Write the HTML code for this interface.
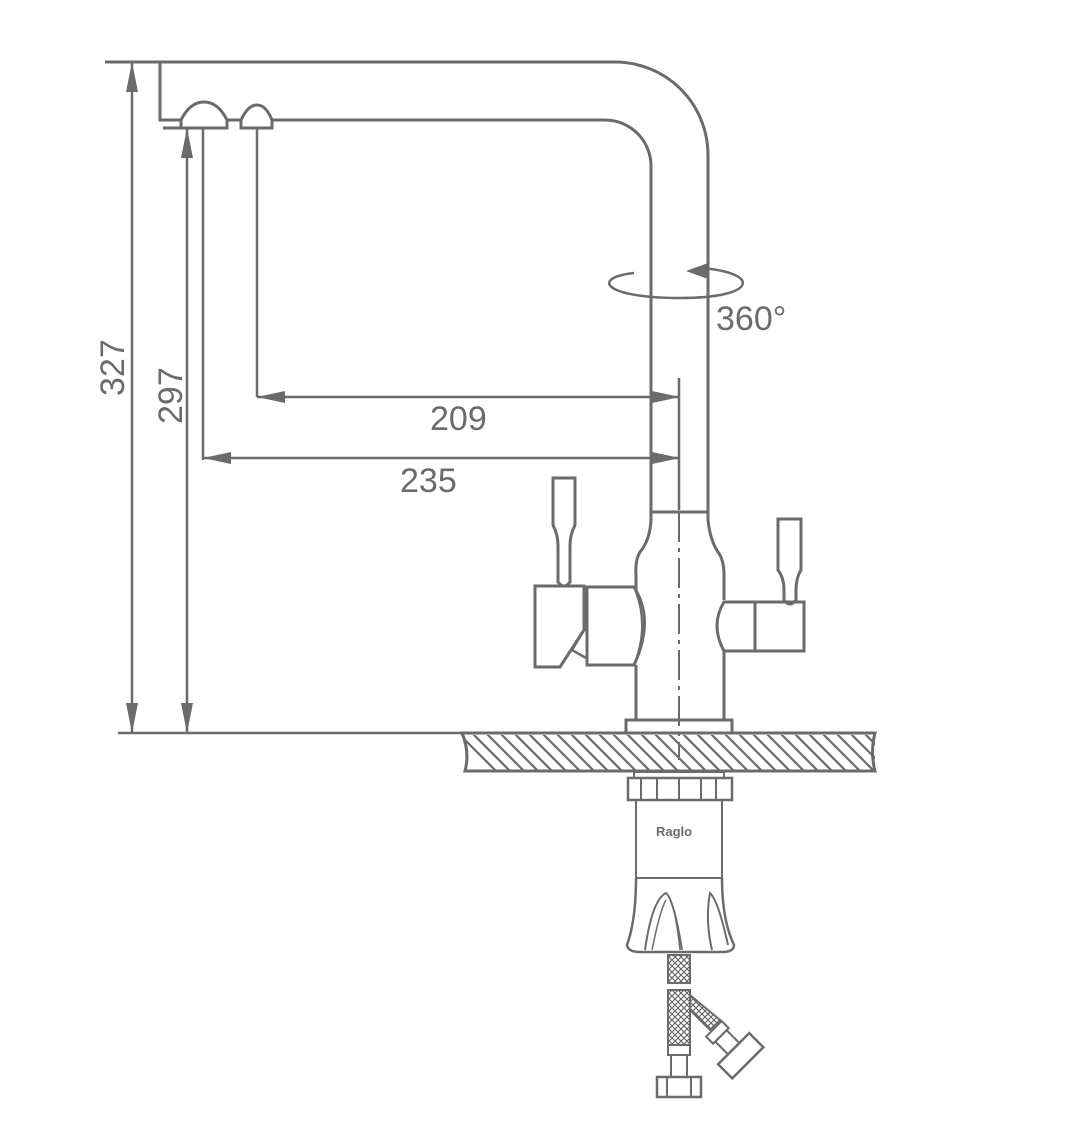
<!DOCTYPE html>
<html><head><style>html,body{margin:0;padding:0;background:#fff}svg{display:block}</style></head>
<body>
<svg width="1065" height="1134" viewBox="0 0 1065 1134" xmlns="http://www.w3.org/2000/svg">
<defs>
<clipPath id="cc"><rect x="465" y="735" width="410" height="35"/></clipPath>
<pattern id="mesh" width="6" height="6" patternUnits="userSpaceOnUse">
<path d="M0 0L6 6M6 0L0 6" stroke="#6b6b6b" stroke-width="1.2"/></pattern>
</defs>
<g fill="none" stroke="#6b6b6b" stroke-width="3">
<!-- spout -->
<path d="M105 62H615A93 93 0 0 1 708 155V512"/>
<path d="M160 62V120H181"/>
<path d="M272 120H605A46 46 0 0 1 651 166V512"/>
<path d="M181 128V120Q190 102 204 102Q218 102 227 120V128Z"/>
<line x1="163" y1="128" x2="227" y2="128"/>
<line x1="227" y1="120" x2="241" y2="120"/>
<path d="M241 128V120Q248 105 257 105Q266 105 272 120V128Z"/>
<line x1="203" y1="128" x2="203" y2="460" stroke-width="2.5"/>
<line x1="257" y1="128" x2="257" y2="397" stroke-width="2.5"/>
<!-- dims -->
<line x1="132" y1="62" x2="132" y2="733" stroke-width="2.5"/>
<line x1="187" y1="128" x2="187" y2="733" stroke-width="2.5"/>
<line x1="118" y1="733" x2="462" y2="733" stroke-width="2.5"/>
<line x1="257" y1="397" x2="680" y2="397" stroke-width="2.5"/>
<line x1="203" y1="458" x2="680" y2="458" stroke-width="2.5"/>
<line x1="679" y1="378" x2="679" y2="510" stroke-width="2.5"/>
<path d="M679 512V760" stroke-width="2" stroke-dasharray="30 6 4 6"/>
<!-- rotation -->
<path d="M634 273C590 278 604 298 680 298C760 298 760 272 700 268" stroke-width="2.5"/>
<!-- body -->
<line x1="651" y1="512" x2="708" y2="512"/>
<path d="M651 512V520Q650 540 640 552Q635 560 636 575V590"/>
<path d="M708 512V520Q710 540 718 552Q724 560 724 575V600"/>
<path d="M636 665V720M724 651V720"/>
<rect x="626" y="720" width="106" height="13"/>
<!-- left handle -->
<path d="M587 587H634Q655 620 634 665H587Z"/>
<path d="M634 587Q650 625 634 665" stroke-width="2"/>
<path d="M535 586H584V630L560 667H535Z"/>
<path d="M584 630L572 650L586 658" stroke-width="2.5"/>
<path d="M553 478H575V525Q570 535 570 545V582Q564 590 558 582V545Q558 535 553 525Z"/>
<!-- right handle -->
<path d="M755 602H724Q710 625 724 651H755Z"/>
<rect x="755" y="602" width="49" height="49"/>
<path d="M778 519H801V570Q796 578 796 590V600Q790 608 784 600V590Q784 578 778 570Z"/>
<!-- counter -->
<path d="M462 733H875Q870 752 875 771H465Q470 752 462 733Z"/>
<g clip-path="url(#cc)" stroke-width="2.2">
<path id="h" d="M450 725l50 50M464 725l50 50M478 725l50 50M492 725l50 50M506 725l50 50M520 725l50 50M534 725l50 50M548 725l50 50M562 725l50 50M576 725l50 50M590 725l50 50M604 725l50 50M618 725l50 50M632 725l50 50M646 725l50 50M660 725l50 50M674 725l50 50M688 725l50 50M702 725l50 50M716 725l50 50M730 725l50 50M744 725l50 50M758 725l50 50M772 725l50 50M786 725l50 50M800 725l50 50M814 725l50 50M828 725l50 50M842 725l50 50M856 725l50 50M870 725l50 50"/>
</g>
<!-- under counter -->
<rect x="634" y="772" width="90" height="6" stroke-width="2"/>
<rect x="628" y="778" width="104" height="22" stroke-width="2.5"/>
<path d="M641 778V800M657 778V800M679 778V800M701 778V800M716 778V800" stroke-width="2"/>
<path d="M636 800V878M722 800V878M636 878H722" stroke-width="2"/>
<path d="M636 878Q636 920 627 945Q628 952 640 952H722Q734 952 734 945Q722 920 722 878" stroke-width="2.5"/>
<path d="M645 950Q652 900 666 893Q674 900 682 950M712 950Q705 920 710 893Q718 900 728 945" stroke-width="2"/>
<path d="M652 950Q660 910 666 900M674 910Q678 930 680 950" stroke-width="1.5"/>
<!-- hoses -->
<rect x="668" y="955" width="22" height="28" fill="url(#mesh)" stroke-width="2"/>
<rect x="668" y="990" width="22" height="55" fill="url(#mesh)" stroke-width="2"/>
<path d="M690 995L720 1020L710 1030L690 1010Z" fill="url(#mesh)" stroke-width="2"/>
<rect x="668" y="1045" width="22" height="10" stroke-width="2"/>
<rect x="671" y="1055" width="16" height="22" stroke-width="2"/>
<rect x="657" y="1077" width="44" height="20" stroke-width="2.5"/>
<path d="M667 1077V1097M691 1077V1097" stroke-width="2"/>
<g transform="translate(728 1043) rotate(-45)">
<rect x="-11" y="-20" width="22" height="10" stroke-width="2"/>
<rect x="-8" y="-10" width="16" height="18" stroke-width="2"/>
<rect x="-22" y="8" width="44" height="20" stroke-width="2.5"/>
</g>
</g>
<g fill="#6b6b6b">
<path d="M132 62l-6 30h12z"/><path d="M132 733l-6-30h12z"/>
<path d="M187 128l-6 30h12z"/><path d="M187 733l-6-30h12z"/>
<path d="M257 397l28-6v12z"/><path d="M680 397l-28-6v12z"/>
<path d="M203 458l28-6v12z"/><path d="M680 458l-28-6v12z"/>
<path d="M686 271l22-8v16z"/>
</g>
<g fill="#6b6b6b" font-family="Liberation Sans, sans-serif" font-size="34">
<text x="716" y="330">360°</text>
<text x="430" y="430">209</text>
<text x="400" y="492">235</text>
<text transform="translate(124 396) rotate(-90)">327</text>
<text transform="translate(182 424) rotate(-90)">297</text>
<text x="656" y="836" font-size="13" font-weight="bold">Raglo</text>
</g>
</svg>
</body></html>
